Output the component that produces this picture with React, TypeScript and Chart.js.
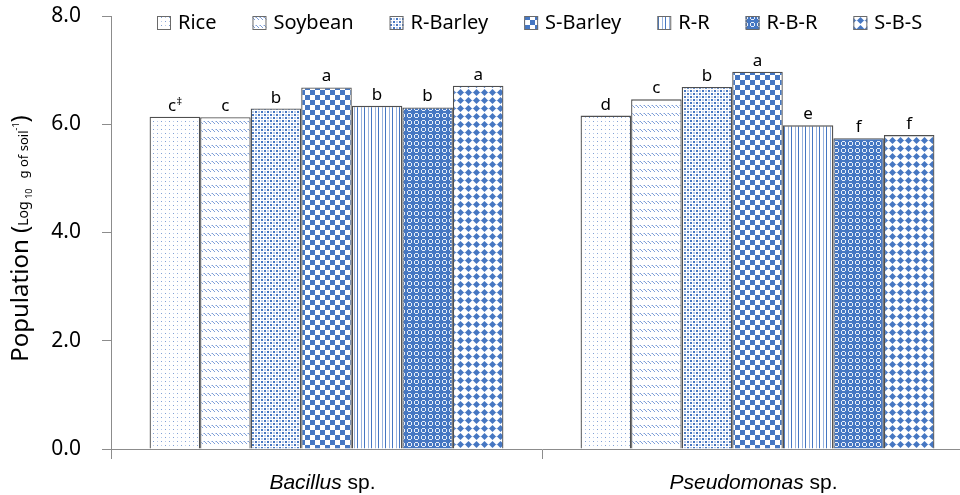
import React, { useEffect, useRef } from 'react';
import { Chart, registerables } from 'chart.js';

Chart.register(...registerables);

// ---------------- data ----------------
const categories = ['Bacillus', 'Pseudomonas'];
const categorySuffix = ' sp.';
const seriesNames = ['Rice', 'Soybean', 'R-Barley', 'S-Barley', 'R-R', 'R-B-R', 'S-B-S'];

const riceValues = [6.14, 6.16];
const soybeanValues = [6.13, 6.46];
const rBarleyValues = [6.29, 6.69];
const sBarleyValues = [6.68, 6.97];
const rrValues = [6.34, 5.98];
const rbrValues = [6.31, 5.74];
const sbsValues = [6.71, 5.8];

const riceLetters = ['c\u2021', 'd'];
const soybeanLetters = ['c', 'c'];
const rBarleyLetters = ['b', 'b'];
const sBarleyLetters = ['a', 'a'];
const rrLetters = ['b', 'e'];
const rbrLetters = ['b', 'f'];
const sbsLetters = ['a', 'f'];

const yTickValues = [0, 2, 4, 6, 8];

const seriesValues = [riceValues, soybeanValues, rBarleyValues, sBarleyValues, rrValues, rbrValues, sbsValues];
const seriesLetters = [riceLetters, soybeanLetters, rBarleyLetters, sBarleyLetters, rrLetters, rbrLetters, sbsLetters];

// ---------------- styles ----------------
const BLUE = '#4677c2';
const MID = '#7f9fd5';
const LIGHT = '#b9cbea';
const AXIS = '#8c8c8c';
const BAR_BORDER = '#4f4f4f';
const SANS = '"Noto Sans", "Open Sans", sans-serif';
const ARIAL = '"Liberation Sans", Arial, sans-serif';

type Drawer = (g: CanvasRenderingContext2D) => void;

function makeTile(w: number, h: number, draw: Drawer): HTMLCanvasElement {
  const c = document.createElement('canvas');
  c.width = w;
  c.height = h;
  const g = c.getContext('2d') as CanvasRenderingContext2D;
  g.fillStyle = '#ffffff';
  g.fillRect(0, 0, w, h);
  draw(g);
  return c;
}

const tileSpecs: [number, number, Drawer][] = [
  // Rice: sparse dots
  [8, 8, (g) => {
    g.fillStyle = MID;
    g.fillRect(1, 1, 1, 1);
    g.fillRect(5, 5, 1, 1);
    g.fillStyle = LIGHT;
    g.fillRect(5, 1, 1, 1);
    g.fillRect(1, 5, 1, 1);
  }],
  // Soybean: rows of small diagonal dashes
  [4, 8, (g) => {
    g.fillStyle = '#7f9fd8';
    g.fillRect(0, 1, 1, 1);
    g.fillRect(1, 2, 1, 1);
    g.fillRect(2, 3, 1, 1);
    g.fillStyle = '#c2d3f0';
    g.fillRect(3, 1, 1, 1);
  }],
  // R-Barley: dense small dots
  [6, 6, (g) => {
    g.fillStyle = BLUE;
    g.fillRect(0, 0, 2, 2);
    g.fillRect(3, 3, 2, 2);
    g.fillStyle = LIGHT;
    g.fillRect(3, 0, 2, 2);
    g.fillRect(0, 3, 2, 2);
  }],
  // S-Barley: checkerboard
  [10, 10, (g) => {
    g.fillStyle = BLUE;
    g.fillRect(0, 0, 5, 5);
    g.fillRect(5, 5, 5, 5);
  }],
  // R-R: vertical lines
  [7, 4, (g) => {
    g.fillStyle = BLUE;
    g.fillRect(0, 0, 1, 4);
    g.fillStyle = '#98b3df';
    g.fillRect(4, 0, 1, 4);
  }],
  // R-B-R: blue with white rings
  [7, 7, (g) => {
    g.fillStyle = BLUE;
    g.fillRect(0, 0, 7, 7);
    g.fillStyle = '#e6edf8';
    const ring = [[2, 1], [3, 1], [4, 1], [1, 2], [5, 2], [1, 3], [5, 3], [1, 4], [5, 4], [2, 5], [3, 5], [4, 5]];
    ring.forEach(([x, y]) => g.fillRect(x, y, 1, 1));
  }],
  // S-B-S: diamonds
  [8, 8, (g) => {
    g.fillStyle = '#d3def2';
    g.fillRect(0, 4, 8, 1);
    g.fillStyle = BLUE;
    g.beginPath();
    g.moveTo(4.5, 1);
    g.lineTo(8, 4.5);
    g.lineTo(4.5, 8);
    g.lineTo(1, 4.5);
    g.closePath();
    g.fill();
  }],
];

export default function App() {
  const canvasRef = useRef<HTMLCanvasElement | null>(null);

  useEffect(() => {
    const canvas = canvasRef.current;
    if (!canvas) return;
    const ctx = canvas.getContext('2d') as CanvasRenderingContext2D;
    const patterns = tileSpecs.map(([w, h, d]) => ctx.createPattern(makeTile(w, h, d), 'repeat') as CanvasPattern);

    const legendPlugin = {
      id: 'customLegend',
      afterDraw(chart: any) {
        const c = chart.ctx as CanvasRenderingContext2D;
        c.save();
        c.font = `20px ${SANS}`;
        c.textBaseline = 'alphabetic';
        c.textAlign = 'left';
        let x = 157;
        const boxTop = 16;
        const box = 14;
        chart.data.datasets.forEach((ds: any, i: number) => {
          c.fillStyle = patterns[i];
          c.fillRect(x, boxTop, box, box);
          c.strokeStyle = '#6a6a6a';
          c.lineWidth = 1;
          c.strokeRect(x + 0.5, boxTop + 0.5, box - 1, box - 1);
          c.fillStyle = '#000';
          const tx = x + box + 7;
          c.fillText(ds.label, tx, 29);
          x = tx + c.measureText(ds.label).width + 36;
        });
        c.restore();
      },
    };

    const letterPlugin = {
      id: 'barLetters',
      afterDatasetsDraw(chart: any) {
        const c = chart.ctx as CanvasRenderingContext2D;
        c.save();
        c.fillStyle = '#000';
        c.textBaseline = 'alphabetic';
        c.textAlign = 'left';
        chart.data.datasets.forEach((ds: any, di: number) => {
          const meta = chart.getDatasetMeta(di);
          meta.data.forEach((el: any, i: number) => {
            const txt: string = seriesLetters[di][i];
            const main = txt.charAt(0);
            const rest = txt.slice(1);
            c.font = `17px ${SANS}`;
            const wMain = c.measureText(main).width;
            c.font = `11px ${SANS}`;
            const wRest = rest ? c.measureText(rest).width : 0;
            const total = wMain + wRest;
            const x0 = el.x - total / 2;
            const yb = el.y - 6;
            c.font = `17px ${SANS}`;
            c.fillText(main, x0, yb);
            if (rest) {
              c.font = `11px ${SANS}`;
              c.fillText(rest, x0 + wMain + 0.5, yb - 6);
            }
          });
        });
        c.restore();
      },
    };

    const xLabelPlugin = {
      id: 'xLabels',
      afterDraw(chart: any) {
        const c = chart.ctx as CanvasRenderingContext2D;
        const xs = chart.scales.x;
        c.save();
        c.fillStyle = '#000';
        c.textBaseline = 'alphabetic';
        c.textAlign = 'left';
        categories.forEach((name, i) => {
          c.font = `italic 21px ${ARIAL}`;
          const w1 = c.measureText(name).width;
          c.font = `21px ${ARIAL}`;
          const w2 = c.measureText(categorySuffix).width;
          const cx = xs.getPixelForValue(i) - 4;
          const x0 = cx - (w1 + w2) / 2;
          const yb = chart.chartArea.bottom + 40;
          c.font = `italic 21px ${ARIAL}`;
          c.fillText(name, x0, yb);
          c.font = `21px ${ARIAL}`;
          c.fillText(categorySuffix, x0 + w1, yb);
        });
        c.restore();
      },
    };

    const yTitlePlugin = {
      id: 'yTitle',
      afterDraw(chart: any) {
        const c = chart.ctx as CanvasRenderingContext2D;
        const segs = [
          { t: 'Population (', s: 24, dy: 0 },
          { t: 'Log', s: 14, dy: 0 },
          { t: ' ', s: 10, dy: 0 },
          { t: '10', s: 9, dy: 4 },
          { t: '   g of soil', s: 13, dy: 0 },
          { t: '-1', s: 9, dy: -9 },
          { t: ')', s: 24, dy: 0 },
        ];
        c.save();
        let total = 0;
        const widths = segs.map((sg) => {
          c.font = `${sg.s}px ${SANS}`;
          const w = c.measureText(sg.t).width;
          total += w;
          return w;
        });
        const cy = (chart.chartArea.top + chart.chartArea.bottom) / 2 + 6;
        c.translate(28, cy);
        c.rotate(-Math.PI / 2);
        c.fillStyle = '#000';
        c.textBaseline = 'alphabetic';
        c.textAlign = 'left';
        let x = -total / 2;
        segs.forEach((sg, i) => {
          c.font = `${sg.s}px ${SANS}`;
          c.fillText(sg.t, x, sg.dy);
          x += widths[i];
        });
        c.restore();
      },
    };

    const chart = new Chart(canvas, {
      type: 'bar',
      data: {
        labels: categories,
        datasets: seriesNames.map((name, i) => ({
          label: name,
          data: seriesValues[i],
          backgroundColor: patterns[i],
          borderColor: BAR_BORDER,
          borderWidth: 1.3,
          categoryPercentage: 0.821,
          barPercentage: 1,
        })),
      },
      options: {
        responsive: false,
        animation: false,
        events: [],
        layout: { padding: { left: 0, right: 27, top: 16, bottom: 0 } },
        plugins: {
          legend: { display: false },
          tooltip: { enabled: false },
          title: { display: false },
        },
        scales: {
          x: {
            offset: true,
            grid: { offset: true, drawOnChartArea: false, drawTicks: true, tickLength: 10, color: AXIS, lineWidth: 1 },
            border: { display: true, color: AXIS, width: 1 },
            ticks: { display: false },
            afterFit: (s: any) => { s.height = 46; s.paddingLeft = 0; s.paddingRight = 0; },
          },
          y: {
            min: 0,
            max: 8,
            afterBuildTicks: (s: any) => { s.ticks = yTickValues.map((v) => ({ value: v })); },
            ticks: {
              callback: (v: any) => Number(v).toFixed(1),
              font: { family: SANS, size: 21 },
              color: '#000',
              padding: 21,
            },
            grid: { drawOnChartArea: false, drawTicks: true, tickLength: 9, color: AXIS, lineWidth: 1 },
            border: { display: true, color: AXIS, width: 1 },
            afterFit: (s: any) => { s.width = 111; s.paddingTop = 0; s.paddingBottom = 0; },
          },
        },
      },
      plugins: [letterPlugin, legendPlugin, xLabelPlugin, yTitlePlugin],
    } as any);

    return () => chart.destroy();
  }, []);

  return (
    <div style={{ position: 'fixed', left: 0, top: 0, width: 960, height: 495, overflow: 'hidden', background: '#ffffff' }}>
      <canvas ref={canvasRef} width={1000} height={495} style={{ display: 'block', width: 1000, height: 495 }} />
    </div>
  );
}
